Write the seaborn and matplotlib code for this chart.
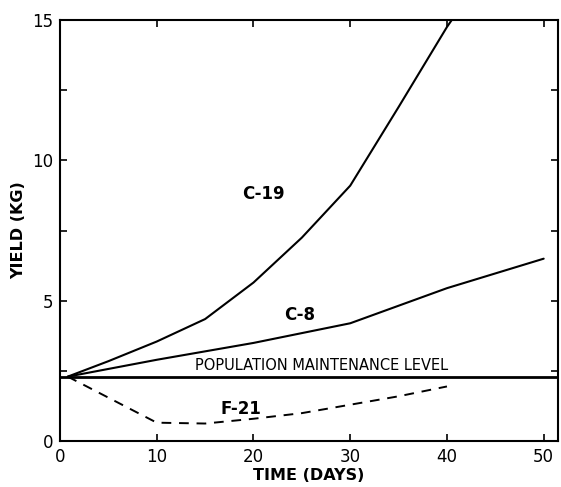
import matplotlib
matplotlib.use("Agg")
import matplotlib.pyplot as plt
import seaborn as sns
import pandas as pd

# Data
c19_days = [0.8, 5, 10, 15, 20, 25, 30, 35, 40, 40.5]
c19_yield = [2.3, 2.85, 3.55, 4.35, 5.65, 7.25, 9.1, 11.9, 14.75, 15.0]

c8_days = [0.8, 10, 20, 30, 40, 50]
c8_yield = [2.3, 2.9, 3.5, 4.2, 5.45, 6.5]

pml_days = [0, 51.5]
pml_yield = [2.3, 2.3]

f21_days = [0.8, 10, 15, 20, 25, 30, 35, 40]
f21_yield = [2.3, 0.66, 0.63, 0.8, 1.0, 1.3, 1.6, 1.95]

x_ticks = [0, 10, 20, 30, 40, 50]
y_ticks = [0, 5, 10, 15]

sns.set_theme(style="ticks")
plt.rcParams['font.family'] = ['DejaVu Sans']
plt.rcParams['text.color'] = 'black'
plt.rcParams['axes.labelcolor'] = 'black'

fig = plt.figure(figsize=(5.61, 4.87), dpi=100)
ax = fig.add_axes([0.107, 0.094, 0.888, 0.865])

def frame(x, y, name):
    return pd.DataFrame({"days": x, "yield": y, "series": name})

sns.lineplot(data=frame(c19_days, c19_yield, "C-19"), x="days", y="yield",
             color="black", lw=1.5, ax=ax, sort=False)
sns.lineplot(data=frame(c8_days, c8_yield, "C-8"), x="days", y="yield",
             color="black", lw=1.5, ax=ax, sort=False)
sns.lineplot(data=frame(pml_days, pml_yield, "PML"), x="days", y="yield",
             color="black", lw=2.0, ax=ax, sort=False)
sns.lineplot(data=frame(f21_days, f21_yield, "F-21"), x="days", y="yield",
             color="black", lw=1.4, ax=ax, sort=False, linestyle=(0, (5, 4)))

ax.set_xlim(0, 51.5)
ax.set_ylim(0, 15)
ax.set_xticks(x_ticks)
ax.set_xticklabels([str(t) for t in x_ticks])
ax.set_yticks([0, 2.5, 5, 7.5, 10, 12.5, 15])
ax.set_yticklabels(["0", "", "5", "", "10", "", "15"])
ax.tick_params(direction="in", length=5, width=1.2, top=True, right=True,
               labelsize=12, colors="black", pad=5)
for s in ax.spines.values():
    s.set_linewidth(1.5)
    s.set_color("black")

ax.set_xlabel("TIME (DAYS)", fontsize=11.5, fontweight="bold", labelpad=1)
ax.set_ylabel("YIELD (KG)", fontsize=11.5, fontweight="bold", labelpad=4)

ax.text(21.0, 8.8, "C-19", fontsize=12, fontweight="bold", ha="center", va="center")
ax.text(24.8, 4.5, "C-8", fontsize=12, fontweight="bold", ha="center", va="center")
ax.text(27.0, 2.68, "POPULATION MAINTENANCE LEVEL", fontsize=10.5,
        ha="center", va="center")
ax.text(18.7, 1.15, "F-21", fontsize=12, fontweight="bold", ha="center", va="center")

fig.savefig("out.png", dpi=100)
